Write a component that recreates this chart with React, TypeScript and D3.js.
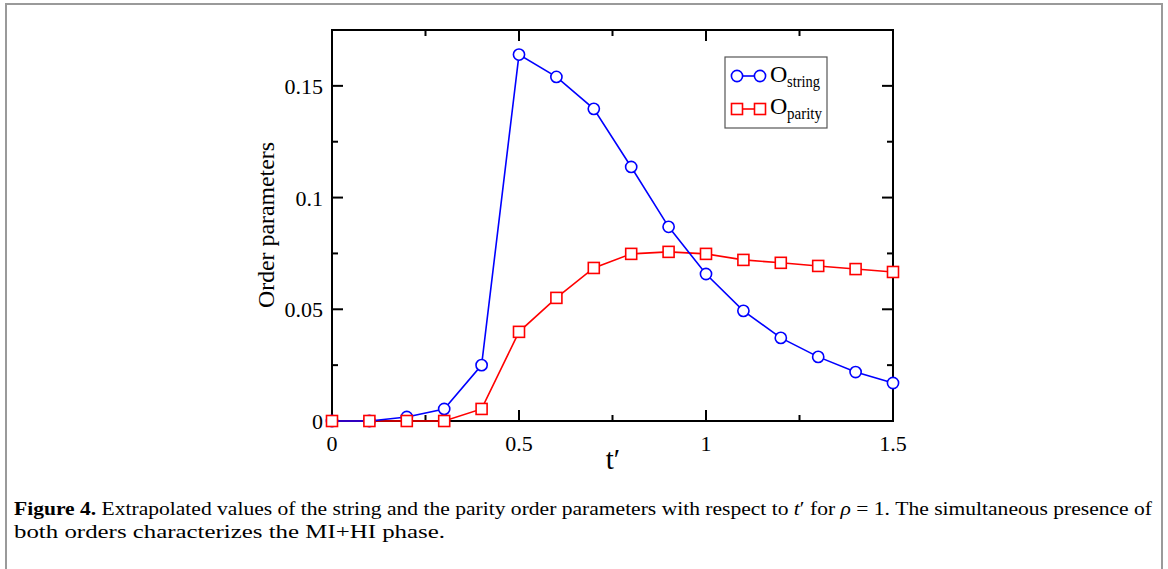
import React from "react";
import * as d3 from "d3";

const tValues = [0, 0.1, 0.2, 0.3, 0.4, 0.5, 0.6, 0.7, 0.8, 0.9, 1.0, 1.1, 1.2, 1.3, 1.4, 1.5];
const oString = [0, 0, 0.0018, 0.0054, 0.025, 0.164, 0.154, 0.1397, 0.1137, 0.0869, 0.0658, 0.0493, 0.0372, 0.0287, 0.0219, 0.017];
const oParity = [0, 0, 0, 0, 0.0054, 0.0399, 0.0551, 0.0685, 0.0748, 0.0757, 0.0748, 0.0721, 0.0708, 0.0694, 0.068, 0.0667];
const xMajorTicks = [0, 0.5, 1, 1.5];
const xTickLabels = ["0", "0.5", "1", "1.5"];
const xMinorTicks = [0.25, 0.75, 1.25];
const yMajorTicks = [0, 0.05, 0.1, 0.15];
const yTickLabels = ["0", "0.05", "0.1", "0.15"];
const yMinorTicks = [0.025, 0.075, 0.125];

const W = 1168;
const H = 569;
const left = 332;
const right = 893;
const top = 30;
const bottom = 421;
const serif = "'Liberation Serif', 'Times New Roman', Times, serif";

export default function App() {
  const x = d3.scaleLinear().domain([0, 1.5]).range([left, right]);
  const y = d3.scaleLinear().domain([0, 0.175]).range([bottom, top]);
  const line = d3
    .line<number>()
    .x((_, i) => x(tValues[i]))
    .y((d) => y(d));

  const majorLen = 11;
  const minorLen = 6;
  const sq = 11;

  return (
    <svg width={W} height={H} style={{ position: "absolute", left: 0, top: 0, fontFamily: serif }}>
      <rect x={0} y={0} width={W} height={H} fill="#fff" />
      {/* outer frame */}
      <path d={`M6,${H + 2} L6,4 L1162,4 L1162,${H + 2}`} fill="none" stroke="#9a9a9a" strokeWidth={2} />

      {/* axes frame */}
      <rect x={left} y={top} width={right - left} height={bottom - top} fill="none" stroke="#000" strokeWidth={2} />

      {/* x ticks */}
      {xMajorTicks.map((t) => (
        <g key={"xm" + t}>
          <line x1={x(t)} x2={x(t)} y1={bottom} y2={bottom - majorLen} stroke="#000" strokeWidth={2} />
          <line x1={x(t)} x2={x(t)} y1={top} y2={top + majorLen} stroke="#000" strokeWidth={2} />
        </g>
      ))}
      {xMinorTicks.map((t) => (
        <g key={"xn" + t}>
          <line x1={x(t)} x2={x(t)} y1={bottom} y2={bottom - minorLen} stroke="#000" strokeWidth={2} />
          <line x1={x(t)} x2={x(t)} y1={top} y2={top + minorLen} stroke="#000" strokeWidth={2} />
        </g>
      ))}
      {xMajorTicks.map((t, i) => (
        <text key={"xl" + t} x={x(t)} y={451} textAnchor="middle" fontSize={22}>
          {xTickLabels[i]}
        </text>
      ))}

      {/* y ticks */}
      {yMajorTicks.map((v) => (
        <g key={"ym" + v}>
          <line x1={left} x2={left + majorLen} y1={y(v)} y2={y(v)} stroke="#000" strokeWidth={2} />
          <line x1={right} x2={right - majorLen} y1={y(v)} y2={y(v)} stroke="#000" strokeWidth={2} />
        </g>
      ))}
      {yMinorTicks.map((v) => (
        <g key={"yn" + v}>
          <line x1={left} x2={left + minorLen} y1={y(v)} y2={y(v)} stroke="#000" strokeWidth={2} />
          <line x1={right} x2={right - minorLen} y1={y(v)} y2={y(v)} stroke="#000" strokeWidth={2} />
        </g>
      ))}
      {yMajorTicks.map((v, i) => (
        <text key={"yl" + v} x={323} y={y(v) + 8} textAnchor="end" fontSize={22}>
          {yTickLabels[i]}
        </text>
      ))}

      {/* axis labels */}
      <text x={613} y={469} textAnchor="middle" fontSize={29}>
        t′
      </text>
      <text
        transform={`translate(274,225) rotate(-90)`}
        textAnchor="middle"
        fontSize={23}
        textLength={166}
        lengthAdjust="spacingAndGlyphs"
      >
        Order parameters
      </text>

      {/* series */}
      <path d={line(oParity) || ""} fill="none" stroke="#ff0000" strokeWidth={1.6} />
      <path d={line(oString) || ""} fill="none" stroke="#0000ff" strokeWidth={1.6} />
      {oString.map((v, i) => (
        <circle key={"c" + i} cx={x(tValues[i])} cy={y(v)} r={5.6} fill="#fff" stroke="#0000ff" strokeWidth={1.6} />
      ))}
      {oParity.map((v, i) => (
        <rect
          key={"s" + i}
          x={x(tValues[i]) - sq / 2}
          y={y(v) - sq / 2}
          width={sq}
          height={sq}
          fill="#fff"
          stroke="#ff0000"
          strokeWidth={1.6}
        />
      ))}

      {/* legend */}
      <rect x={725} y={57} width={102} height={71} fill="#fff" stroke="#555" strokeWidth={1.2} />
      <line x1={737} x2={760} y1={76} y2={76} stroke="#0000ff" strokeWidth={1.6} />
      <circle cx={737} cy={76} r={5.6} fill="#fff" stroke="#0000ff" strokeWidth={1.6} />
      <circle cx={760} cy={76} r={5.6} fill="#fff" stroke="#0000ff" strokeWidth={1.6} />
      <text x={770} y={82} fontSize={24}>
        O
      </text>
      <text x={787} y={87} fontSize={17} textLength={33} lengthAdjust="spacingAndGlyphs">
        string
      </text>
      <line x1={737} x2={760} y1={109} y2={109} stroke="#ff0000" strokeWidth={1.6} />
      <rect x={737 - sq / 2} y={109 - sq / 2} width={sq} height={sq} fill="#fff" stroke="#ff0000" strokeWidth={1.6} />
      <rect x={760 - sq / 2} y={109 - sq / 2} width={sq} height={sq} fill="#fff" stroke="#ff0000" strokeWidth={1.6} />
      <text x={770} y={114} fontSize={24}>
        O
      </text>
      <text x={787} y={119} fontSize={17} textLength={35} lengthAdjust="spacingAndGlyphs">
        parity
      </text>

      {/* caption */}
      <text x={14} y={515} fontSize={19} textLength={1138} lengthAdjust="spacingAndGlyphs">
        <tspan fontWeight="bold">Figure 4.</tspan>
        <tspan> Extrapolated values of the string and the parity order parameters with respect to </tspan>
        <tspan fontStyle="italic">t</tspan>
        <tspan>′ for </tspan>
        <tspan fontStyle="italic">ρ</tspan>
        <tspan> = 1. The simultaneous presence of</tspan>
      </text>
      <text x={14} y={538} fontSize={19} textLength={431} lengthAdjust="spacingAndGlyphs">
        both orders characterizes the MI+HI phase.
      </text>
    </svg>
  );
}
